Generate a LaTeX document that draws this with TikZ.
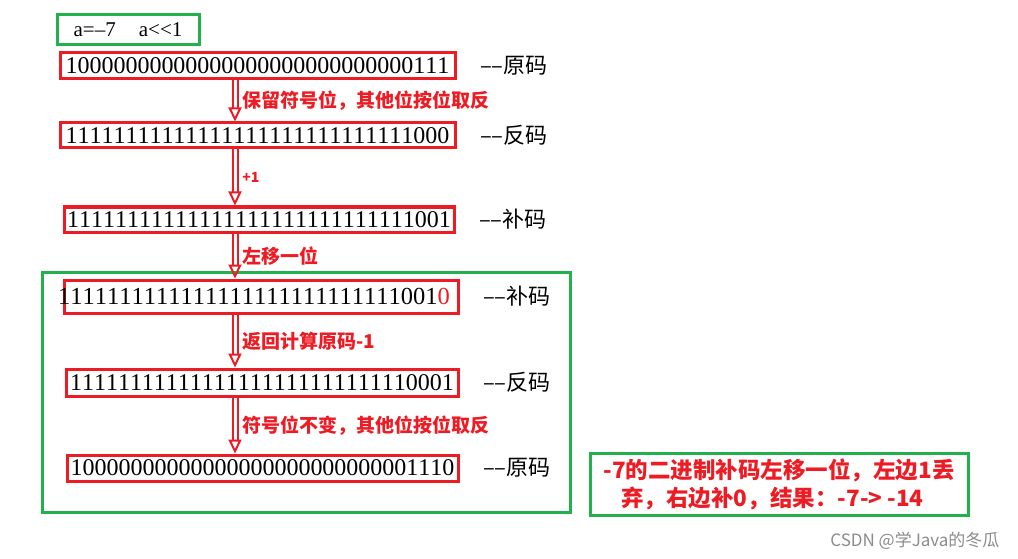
\documentclass[tikz,border=0pt]{standalone}
\usepackage{fontspec}
\setmainfont{Liberation Serif}[Kerning=Off]
\newfontfamily\cjk{Noto Sans CJK SC}
\usetikzlibrary{positioning,arrows.meta,calc}
\definecolor{cred}{RGB}{237,28,36}
\definecolor{cgreen}{RGB}{34,177,76}

\begin{document}
\begin{tikzpicture}[x=1pt,y=-1pt,
    codebox/.style={draw=cred, line width=3pt, inner sep=0pt, minimum width=395pt, minimum height=26pt, font=\fontsize{24}{24}\selectfont},
    codename/.style={font=\cjk\fontsize{22}{22}\selectfont, right=20pt of #1},
    steptext/.style={text=cred, font=\cjk\bfseries\fontsize{19}{19}\selectfont, midway, right=3pt},
    hollow/.style={draw=cred, line width=2pt, double=white, double distance=3pt, -{Triangle[open, length=14pt, width=13pt]}},
    greenframe/.style={draw=cgreen, line width=3pt}]
  \useasboundingbox[fill=white] (0,0) rectangle (1018,559);

  \node[greenframe, minimum width=142pt, minimum height=30pt, font=\fontsize{21}{21}\selectfont] (given) at (128,30) {a=–7\hspace{1.1em}a<{}<1};

  % steps from the original code to the shifted complement
  \node[codebox] (r1) at (257.5,66) {10000000000000000000000000000111};
  \node[codebox, minimum height=25pt] (r2) at (257.5,135.5) {11111111111111111111111111111000};
  \node[codebox, minimum width=390pt, minimum height=25pt] (r3) at (259,219.5) {11111111111111111111111111111001};
  \draw[greenframe] (42,272) rectangle (570,512);
  \node[codebox, minimum width=394pt, minimum height=33pt] (r4) at (261,296.5) {};
  \node[font=\fontsize{24.5}{24.5}\selectfont, inner sep=0pt] (r4text) at (254,296) {1111111111111111111111111111001\textcolor{cred}{0}};
  \node[codebox, minimum width=392pt, minimum height=27pt] (r5) at (262,382.5) {11111111111111111111111111110001};
  \node[codebox, minimum width=391pt] (r6) at (262.5,468) {10000000000000000000000000001110};

  \node[codename=r1] {––原码};
  \node[codename=r2] {––反码};
  \node[codename=r3] {––补码};
  \node[codename=r4] {––补码};
  \node[codename=r5] {––反码};
  \node[codename=r6] {––原码};

  \coordinate (ax) at (235,0);
  \draw[hollow] (ax |- r1.south) -- (ax |- r2.north) node[steptext] {保留符号位，其他位按位取反};
  \draw[hollow] (ax |- r2.south) -- (ax |- r3.north) node[steptext, font=\cjk\bfseries\fontsize{14}{14}\selectfont] {+1};
  \draw[hollow] (ax |- r3.south) -- (ax |- r4.north) node[steptext] {左移一位};
  \draw[hollow] (ax |- r4.south) -- (ax |- r5.north) node[steptext] {返回计算原码-1};
  \draw[hollow] (ax |- r5.south) -- (ax |- r6.north) node[steptext] {符号位不变，其他位按位取反};

  \node[greenframe, minimum width=378pt, minimum height=62pt, text=cred, font=\cjk\bfseries\fontsize{22.5}{28}\selectfont, align=left] (result) at (779,484)
    {-7的二进制补码左移一位，左边1丢\\\hspace{0.8em}弃，右边补0，结果：-7-> -14};

  \node[anchor=east, text=black!45, font=\cjk\fontsize{17}{17}\selectfont] (mark) at (1003,541) {CSDN @学Java的冬瓜};
\end{tikzpicture}
\end{document}
